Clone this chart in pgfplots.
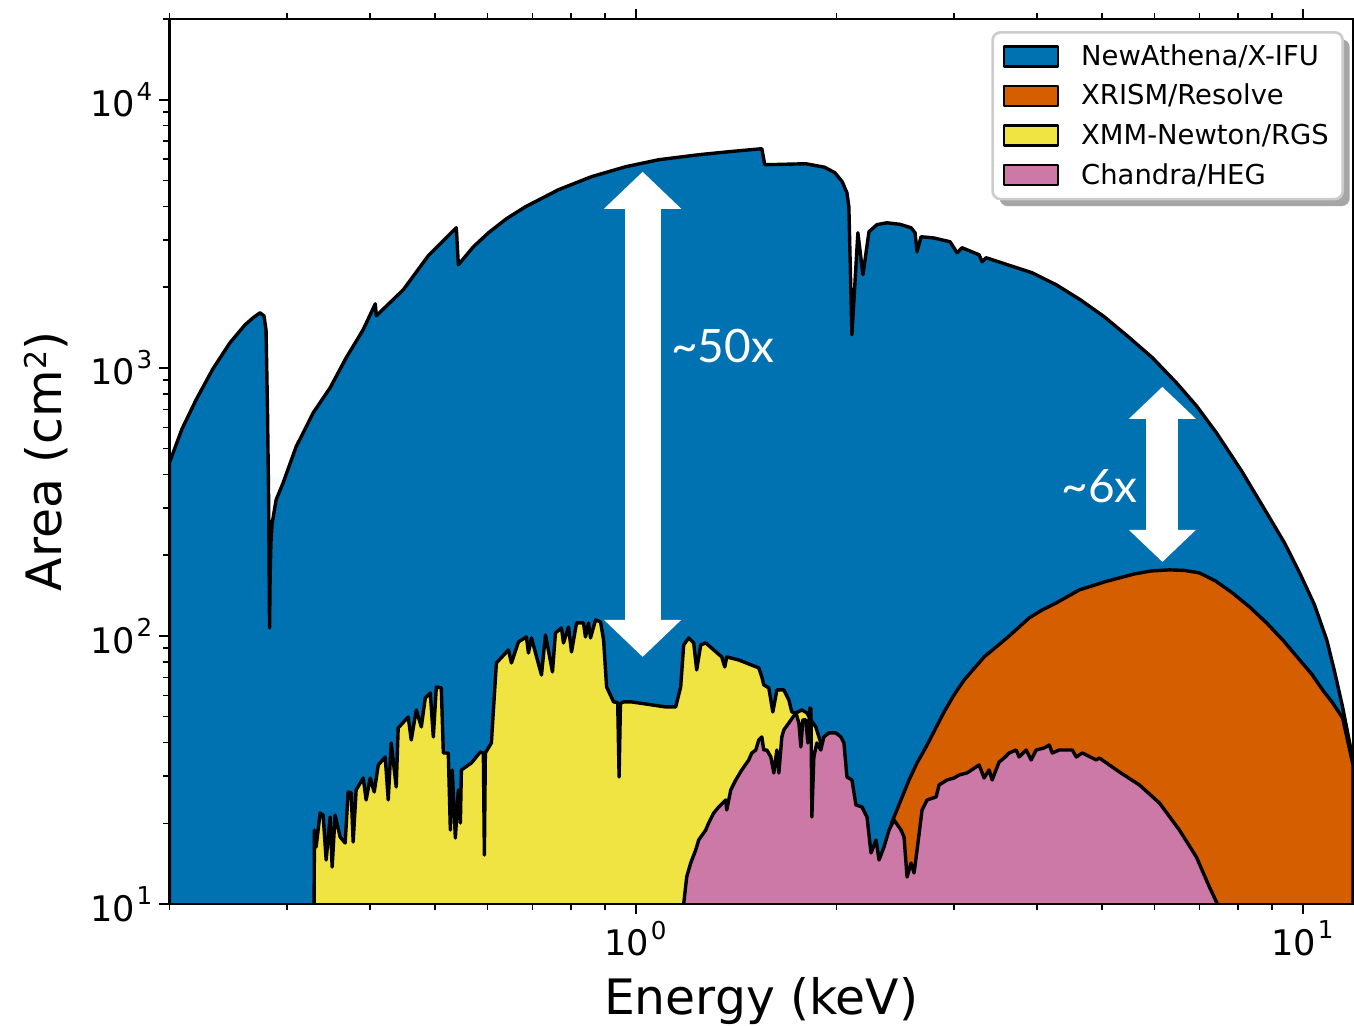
\documentclass[border=0pt]{standalone}
\usepackage{fontspec}
\setmainfont{DejaVu Sans}
\newfontfamily\annotfont{Lato}
\usepackage{pgfplots}
\pgfplotsset{compat=1.18}
\usetikzlibrary{arrows.meta,shadows}

\definecolor{xifu}{HTML}{0072B2}
\definecolor{resolve}{HTML}{D55E00}
\definecolor{rgs}{HTML}{F0E442}
\definecolor{heg}{HTML}{CC79A7}

% superscript for the power-of-ten tick labels
\newcommand{\tsup}[1]{\kern0.8pt\raisebox{8.3pt}{\fontsize{12.3pt}{12.3pt}\selectfont #1}}

% keep the legend's drop shadow off the legend patches
\makeatletter
\tikzset{no preactions/.code={\let\tikz@preactions\pgfutil@empty}}
\makeatother

\begin{document}
\begin{tikzpicture}
\begin{axis}[
  at={(0,0)}, anchor=south west,
  width=591.8pt, height=442.5pt, scale only axis,
  xmode=log, ymode=log,
  xmin=0.2, xmax=11.9, ymin=10, ymax=20000,
  axis on top,
  axis line style={line width=1.3pt},
  tick align=outside,
  major tick length=5pt, minor tick length=3pt,
  every major tick/.append style={line width=1pt, black},
  every minor tick/.append style={line width=0.75pt, black},
  xtick={1,10},
  xticklabels={10\tsup{0},10\tsup{1}},
  minor xtick={0.2,0.3,0.4,0.5,0.6,0.7,0.8,0.9,2,3,4,5,6,7,8,9},
  ytick={10,100,1000,10000},
  yticklabels={10\tsup{1},10\tsup{2},10\tsup{3},10\tsup{4}},
  minor ytick={20,30,40,50,60,70,80,90,200,300,400,500,600,700,800,900,2000,3000,4000,5000,6000,7000,8000,9000,20000},
  ticklabel style={font=\fontsize{17.6pt}{17.6pt}\selectfont},
  xlabel={Energy (keV)},
  ylabel={Area (cm\raisebox{7.3pt}{\fontsize{15pt}{15pt}\selectfont 2})},
  label style={font=\fontsize{24.4pt}{24.4pt}\selectfont},
  xlabel style={at={(rel axis cs:0.5,0)}, anchor=center, yshift=-48.5pt},
  ylabel style={at={(rel axis cs:0,0.5)}, anchor=center, yshift=61.7pt},
  legend style={
    at={(1,1)}, anchor=north east, xshift=-4.5pt, yshift=-6pt,
    draw=black!20, line width=1.3pt, rounded corners=4pt, fill=white,
    drop shadow={shadow xshift=3.5pt, shadow yshift=-3.5pt, fill=black!35, opacity=1},
    font=\fontsize{13.7pt}{16pt}\selectfont,
    cells={anchor=west},
    inner xsep=5pt, inner ysep=4pt,
    row sep=4pt, column sep=9pt,
  },
  legend image code/.code={
    \draw[#1, no preactions, sharp corners, line width=1.3pt, draw=black] (0pt,-5pt) rectangle (27pt,5pt);
  },
  every axis plot/.append style={draw=black, line width=1.7pt, line join=round},
]

% NewAthena/X-IFU effective area
\addplot[fill=xifu] table {
E A
0.2000 442
0.2089 592
0.2193 760
0.2324 991
0.2465 1240
0.2597 1447
0.2670 1537
0.2734 1604
0.2772 1563
0.2792 1386
0.2806 700
0.2818 300
0.2826 107
0.2832 170
0.2840 225
0.2851 262
0.2891 322
0.2961 372
0.3097 507
0.3285 679
0.3483 842
0.3682 1090
0.3904 1386
0.4071 1733
0.4085 1563
0.4484 1954
0.4888 2618
0.5385 3330
0.5423 2423
0.5712 2828
0.6018 3190
0.6402 3597
0.6837 3988
0.7663 4616
0.8587 5162
0.9660 5623
1.083 5972
1.243 6233
1.379 6397
1.546 6565
1.562 5720
1.800 5770
1.920 5600
1.990 5341
2.040 4950
2.074 4498
2.088 3988
2.110 1328
2.154 3190
2.192 2223
2.238 3217
2.300 3420
2.382 3475
2.490 3430
2.588 3330
2.624 3190
2.642 2710
2.679 3083
2.800 3050
2.961 2952
3.034 2686
3.087 2804
3.273 2640
3.307 2486
3.354 2573
3.931 2262
4.273 2040
4.642 1794
5.043 1550
5.480 1305
5.955 1090
6.470 879
6.931 722
7.428 572
8.098 413
8.832 288
9.397 222
9.897 172
10.42 130.5
10.87 96.6
11.17 73.4
11.48 54.3
11.90 34.5
} \closedcycle;
\addlegendentry{NewAthena/X-IFU}

% XRISM/Resolve effective area
\addplot[fill=resolve] table {
E A
2.2537 10
2.3171 13.39
2.4235 20.23
2.5700 29.02
2.6420 33.6
2.7256 38.54
2.9007 52.05
3.0027 60.3
3.1088 68.53
3.3304 83.48
3.4720 91.0
3.6187 99.14
3.8910 116.7
4.0700 125.0
4.2726 132.8
4.6262 148.5
4.8370 153.7
5.0430 159.0
5.3130 164.6
5.5952 170.3
5.9340 174.8
6.3136 176.3
6.6500 175.5
7.0035 171.8
7.4020 160.4
7.8506 144.7
8.3260 128.3
8.8317 111.8
9.3640 95.8
9.8969 81.36
10.316 72.1
10.715 62.88
11.094 56.2
11.482 49.43
11.90 33.0
} \closedcycle;
\addlegendentry{XRISM/Resolve}

% XMM-Newton/RGS effective area
\addplot[fill=rgs] table {
E A
0.3296 10
0.3300 18.88
0.3319 16.32
0.3365 21.85
0.3400 21.48
0.3436 14.60
0.3484 21.12
0.3508 13.74
0.3544 21.48
0.3606 17.78
0.3669 16.89
0.3707 26.18
0.3746 25.96
0.3772 17.03
0.3811 26.63
0.3905 29.52
0.3945 24.44
0.4000 29.52
0.4056 26.18
0.4113 33.01
0.4213 35.36
0.4257 24.44
0.4301 39.88
0.4376 27.33
0.4406 45.37
0.4561 49.86
0.4609 40.92
0.4690 52.96
0.4772 45.76
0.4838 58.71
0.4922 61.29
0.4974 42.00
0.5026 64.53
0.5113 63.98
0.5149 36.59
0.5238 36.59
0.5275 18.88
0.5311 31.62
0.5367 17.63
0.5423 26.63
0.5461 20.06
0.5480 31.62
0.5672 33.58
0.5851 36.90
0.5912 36.59
0.5933 15.23
0.5953 36.59
0.6078 39.88
0.6184 79.29
0.6447 88.66
0.6514 79.29
0.6673 94.98
0.6860 99.14
0.6908 86.40
0.6980 98.30
0.7226 71.51
0.7326 100.9
0.7505 73.40
0.7584 102.6
0.7743 107.1
0.7797 94.16
0.7932 108.0
0.8015 87.15
0.8155 111.8
0.8353 111.8
0.8411 99.14
0.8500 111.8
0.8558 98.30
0.8708 114.7
0.8860 112.8
0.8953 96.62
0.9047 64.53
0.9268 56.72
0.9400 56.5
0.9446 29.78
0.9490 56.0
0.9594 56.72
0.9863 56.72
1.0104 56.23
1.1093 54.33
1.1483 54.33
1.1683 64.53
1.1805 92.57
1.2010 98.30
1.2220 94.16
1.2347 74.67
1.2520 92.57
1.2738 94.16
1.3463 83.48
1.3603 76.63
1.3697 83.48
1.4270 81.36
1.5300 75.97
1.5460 70.30
1.5567 65.65
1.5839 63.98
1.6060 52.05
1.6285 62.88
1.6681 62.88
1.6972 57.70
1.7149 52.05
1.7389 51.60
1.7753 52.96
1.8063 51.60
1.8315 48.61
1.8630 45.76
1.8955 39.88
1.9353 29.02
1.9828 10
} \closedcycle;
\addlegendentry{XMM-Newton/RGS}

% Chandra/HEG effective area
\addplot[fill=heg] table {
E A
1.1805 10
1.1928 12.61
1.2094 14.22
1.2305 15.90
1.2433 17.33
1.2738 18.88
1.2870 20.06
1.3095 21.85
1.3324 23.01
1.3651 24.44
1.3697 22.43
1.3888 26.63
1.4130 29.02
1.4427 31.62
1.4780 34.45
1.4934 36.59
1.5142 37.54
1.5300 40.92
1.5460 42.00
1.5567 37.54
1.5730 37.54
1.5949 35.36
1.6116 30.82
1.6285 37.54
1.6397 30.82
1.6568 42.00
1.6681 44.60
1.6972 47.34
1.7389 51.60
1.7570 47.34
1.7692 38.54
1.7815 48.61
1.8000 48.61
1.8125 39.88
1.8251 53.86
1.8320 53.5
1.8378 21.12
1.8505 35.36
1.8697 39.88
1.8955 37.54
1.9153 42.00
1.9488 43.46
1.9966 43.46
2.0315 42.00
2.0526 39.88
2.0740 29.78
2.1102 29.02
2.1397 23.4
2.1846 23.01
2.2228 21.12
2.2537 15.50
2.2932 17.33
2.3171 14.60
2.3574 16.32
2.3986 18.88
2.4404 20.58
2.5000 18.88
2.5261 17.78
2.5524 12.61
2.5880 14.22
2.6150 13.05
2.6423 15.90
2.6882 22.43
2.7351 24.44
2.8216 25.07
2.8510 27.80
2.9309 29.02
3.0027 29.52
3.0550 30.29
3.1405 30.82
3.2734 33.01
3.3304 29.52
3.3886 31.62
3.4239 29.02
3.5079 33.87
3.5690 35.06
3.6312 36.59
3.7201 37.54
3.7589 35.36
3.8510 37.54
3.9181 34.45
3.9865 37.54
4.1000 38.21
4.1702 39.21
4.2137 36.59
4.3171 37.54
4.5153 37.54
4.5782 35.36
4.6742 36.59
4.9055 34.45
4.9568 35.06
5.3133 31.08
5.6927 27.80
6.0997 23.82
6.5358 18.88
6.9312 14.97
7.2500 11.57
7.4534 10
} \closedcycle;
\addlegendentry{Chandra/HEG}

% ratio markers
\draw[white, line width=18pt,
  {Triangle[width=37.5pt,length=18.5pt]}-{Triangle[width=37.5pt,length=18.5pt]}]
  (axis cs:1.0245,83.5) -- (axis cs:1.0245,5386);
\draw[white, line width=16pt,
  {Triangle[width=32.5pt,length=16pt]}-{Triangle[width=32.5pt,length=16pt]}]
  (axis cs:6.163,188.8) -- (axis cs:6.163,849.3);
\node[anchor=base west, inner sep=0pt, text=white,
  font=\annotfont\fontsize{23pt}{23pt}\selectfont] at (axis cs:1.1286,1044) {\textasciitilde50x};
\node[anchor=base west, inner sep=0pt, text=white,
  font=\annotfont\fontsize{23pt}{23pt}\selectfont] at (axis cs:4.346,313.6) {\textasciitilde6x};
\end{axis}
\pgfresetboundingbox
\path[use as bounding box] (-84.7pt,-60.5pt) rectangle (592.3pt,452pt);
\end{tikzpicture}
\end{document}
